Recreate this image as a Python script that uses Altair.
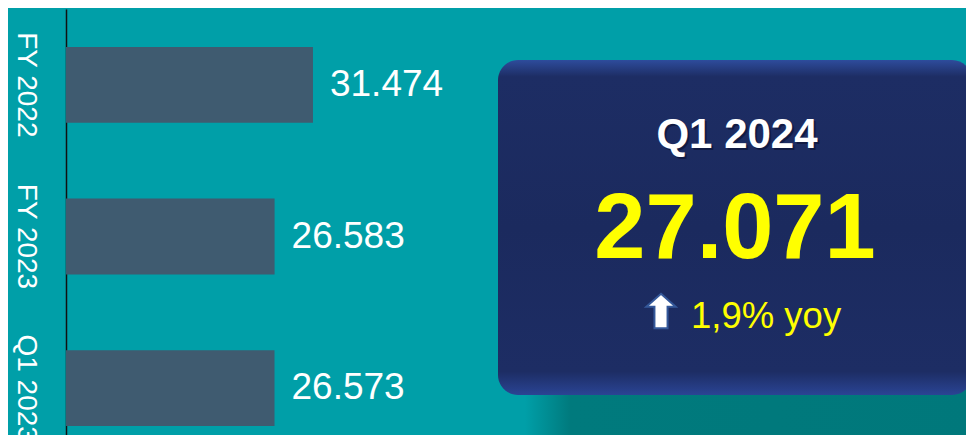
import altair as alt
import pandas as pd

# ---- data ----
categories = ["FY 2022", "FY 2023", "Q1 2023"]
values = [31474, 26583, 26573]
value_labels = [f"{v:,}".replace(",", ".") for v in values]

kpi_period = ["Q1 2024"]
kpi_value = ["27.071"]
kpi_change = ["1,9% yoy"]

# ---- styles ----
BG = "#009FA8"
BAR = "#3F5B70"
NAVY = "#1B2A5E"
FONT = "Liberation Sans"

bars_df = pd.DataFrame({"cat": categories, "val": values, "lab": value_labels})
one = pd.DataFrame({"k": [0]})

y_scale = alt.Scale(domain=categories, range=[-1, 454], paddingInner=0.5, paddingOuter=0.25)
x_scale = alt.Scale(domain=[0, 114700], nice=False, zero=True)

base = alt.Chart(bars_df)

bars = base.mark_bar(color=BAR).encode(
    x=alt.X("val:Q", scale=x_scale, axis=None),
    y=alt.Y("cat:N", scale=y_scale, sort=categories, title=None,
            axis=alt.Axis(domain=True, domainColor="#111111", domainWidth=1.5,
                          ticks=False, tickSize=0, grid=False,
                          labelAngle=90, labelAlign="center", labelBaseline="middle",
                          labelPadding=41, labelColor="white", labelFontSize=28,
                          labelFont=FONT)),
)

labels = base.mark_text(align="left", baseline="middle", dx=17, fontSize=37,
                        color="white", font=FONT).encode(
    x=alt.X("val:Q", scale=x_scale),
    y=alt.Y("cat:N", scale=y_scale, sort=categories),
    text="lab:N",
)

shadow = alt.Chart(one).mark_rect(
    color=alt.LinearGradient(
        gradient="linear", x1=0, y1=0, x2=1, y2=0,
        stops=[alt.GradientStop(color=BG, offset=0),
               alt.GradientStop(color="#007A7D", offset=0.1),
               alt.GradientStop(color="#00787B", offset=1)])
).encode(x=alt.value(459), x2=alt.value(912), y=alt.value(370), y2=alt.value(440))

panel = alt.Chart(one).mark_rect(
    cornerRadius=20,
    color=alt.LinearGradient(
        gradient="linear", x1=0, y1=0, x2=0, y2=1,
        stops=[alt.GradientStop(color="#2E4C9C", offset=0),
               alt.GradientStop(color="#1D2D64", offset=0.05),
               alt.GradientStop(color=NAVY, offset=0.5),
               alt.GradientStop(color="#1D2D64", offset=0.93),
               alt.GradientStop(color="#2A4494", offset=1)])
).encode(x=alt.value(432), x2=alt.value(906), y=alt.value(50), y2=alt.value(385))

period_df = pd.DataFrame({"t": kpi_period})
period_shadow = alt.Chart(period_df).mark_text(
    align="center", baseline="alphabetic", fontSize=42, fontWeight="bold",
    font=FONT, color="#0A1030", opacity=0.6, dx=2, dy=2
).encode(x=alt.value(671), y=alt.value(138), text="t:N")
period = alt.Chart(period_df).mark_text(
    align="center", baseline="alphabetic", fontSize=42, fontWeight="bold",
    font=FONT, color="white"
).encode(x=alt.value(671), y=alt.value(138), text="t:N")

big = alt.Chart(pd.DataFrame({"t": kpi_value})).mark_text(
    align="center", baseline="alphabetic", fontSize=92, fontWeight="bold",
    font=FONT, color="#FFFF00"
).encode(x=alt.value(669), y=alt.value(248), text="t:N")

change = alt.Chart(pd.DataFrame({"t": kpi_change})).mark_text(
    align="left", baseline="alphabetic", fontSize=36.5, font=FONT, color="#FFFF00"
).encode(x=alt.value(625), y=alt.value(318), text="t:N")

arrow = alt.Chart(one).mark_point(
    shape="M0,-1 L0.85,-0.25 L0.38,-0.25 L0.38,1 L-0.38,1 L-0.38,-0.25 L-0.85,-0.25 Z",
    filled=True, fill="white", stroke="#34589A", strokeWidth=2, opacity=1, size=1190
).encode(x=alt.value(595), y=alt.value(301))

chart = alt.layer(bars, labels, shadow, panel, period_shadow, period, big, change, arrow).properties(
    width=900, height=425,
    autosize=alt.AutoSizeParams(type="none"),
    padding={"left": 58, "top": 2, "right": 0, "bottom": 0},
    background=BG,
).configure_view(stroke=None)

chart.save("out.html", embed_options={"renderer": "svg", "actions": False})
